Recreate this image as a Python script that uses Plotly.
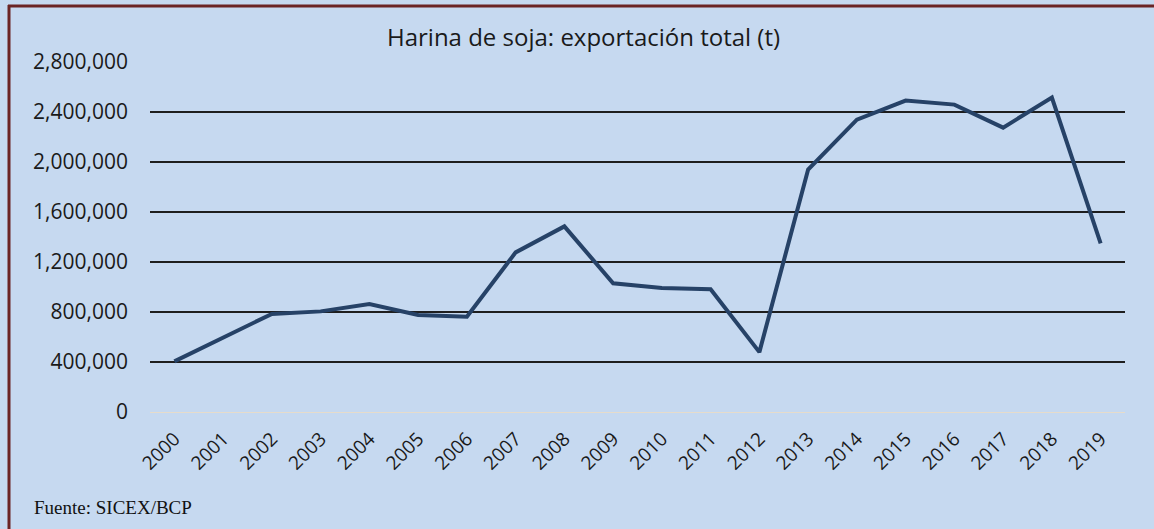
import plotly.graph_objects as go

years = [str(y) for y in range(2000, 2020)]
export_t = [405000, 592000, 785000, 805000, 864000, 776000, 762000, 1277000,
            1485000, 1030000, 992000, 982000, 479000, 1940000, 2339000,
            2491000, 2459000, 2275000, 2515000, 1349000]
y_ticks = [0, 400000, 800000, 1200000, 1600000, 2000000, 2400000, 2800000]
title_text = "Harina de soja: exportación total (t)"
source_text = "Fuente: SICEX/BCP"

W, H = 1154, 529
L, R, T, B = 150, 29, 62, 117
pw, ph = W - L - R, H - T - B

def px(x):
    return (x - L) / pw

def py(y):
    return (H - B - y) / ph

BG = "#c6d9f0"
fig = go.Figure()
fig.add_trace(go.Scatter(
    x=years, y=export_t, mode="lines",
    line=dict(color="#264267", width=4),
    hoverinfo="skip", showlegend=False,
))

fig.update_layout(
    width=W, height=H,
    margin=dict(l=L, r=R, t=T, b=B, pad=0),
    paper_bgcolor=BG, plot_bgcolor=BG,
    font=dict(family="Open Sans", color="#1a1a1a", size=19),
    xaxis=dict(
        type="category", range=[-0.5, 19.5], tickangle=-45,
        showgrid=False, showline=False, zeroline=False, ticks="",
        ticklabelstandoff=11, tickfont=dict(size=19, family="Open Sans"),
    ),
    yaxis=dict(
        range=[0, 2800000], tickvals=y_ticks, tickformat=",d",
        showgrid=True, gridcolor="#1e1e1e", gridwidth=2,
        zeroline=True, zerolinecolor="#e6dccb", zerolinewidth=1,
        showline=False, ticks="", ticklabelstandoff=21,
        tickfont=dict(size=21, family="Open Sans"),
    ),
    annotations=[
        dict(text=title_text, x=px(583), y=py(36), xref="paper", yref="paper",
             xanchor="center", yanchor="middle", showarrow=False,
             font=dict(size=24, family="Open Sans", color="#1a1a1a")),
        dict(text=source_text, x=px(32), y=py(507), xref="paper", yref="paper",
             xanchor="left", yanchor="middle", showarrow=False,
             font=dict(size=19, family="Liberation Serif", color="#111111")),
    ],
    shapes=[
        dict(type="line", xref="paper", yref="paper",
             x0=px(9), x1=px(9), y0=py(5), y1=py(H + 5),
             line=dict(color="#6b2424", width=3)),
        dict(type="line", xref="paper", yref="paper",
             x0=px(8), x1=px(W + 5), y0=py(6), y1=py(6),
             line=dict(color="#6b2424", width=3)),
    ],
)

fig.write_html(
    "out.html",
    config={"displayModeBar": False, "staticPlot": True},
    post_script="document.body.style.margin='0';document.body.style.overflow='hidden';",
)
